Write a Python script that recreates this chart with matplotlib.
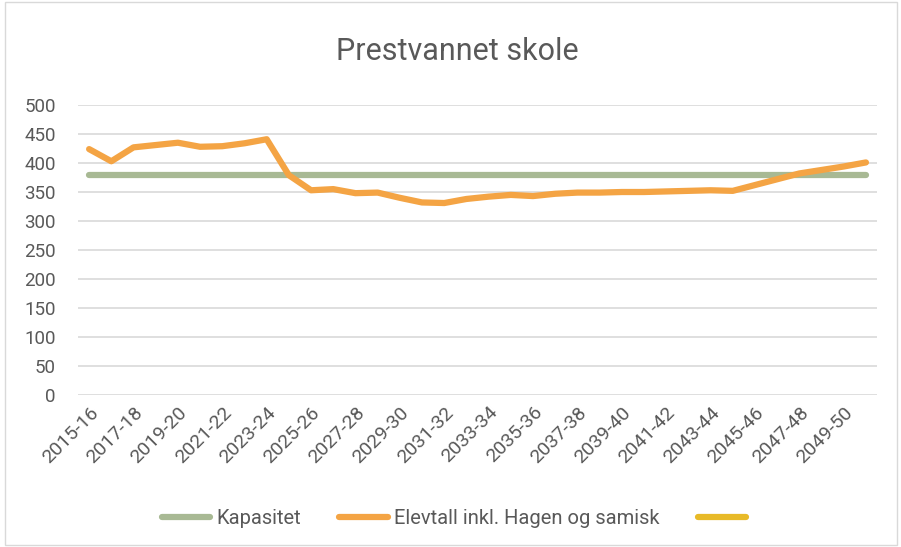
import matplotlib.pyplot as plt
from matplotlib.patches import Rectangle
import numpy as np

# data
aar = ['%d-%02d' % (y, (y + 1) % 100) for y in range(2015, 2051)]
kapasitet = [380] * len(aar)
elevtall = [424, 403, 427, 431, 435, 428, 429, 434, 441, 379,
            353, 355, 348, 349, 340, 332, 331, 338, 342, 345,
            343, 347, 349, 349, 350, 350, 351, 352, 353, 352,
            362, 372, 382, 388, 394, 401]
tom = [np.nan] * len(aar)

plt.rcParams['font.family'] = ['Roboto', 'DejaVu Sans']
grey = '#595959'

fig = plt.figure(figsize=(9.01, 5.47), dpi=100)
ax = fig.add_axes([0.0866, 0.2779, 0.8868, 0.5301])

x = np.arange(len(aar))
ax.plot(x, kapasitet, color='#A8B994', linewidth=4.5, solid_capstyle='round', label='Kapasitet')
ax.plot(x, elevtall, color='#F4A444', linewidth=4.5, solid_capstyle='round',
        solid_joinstyle='round', label='Elevtall inkl. Hagen og samisk')
ax.plot(x, tom, color='#E8BA28', linewidth=4.5, solid_capstyle='round', label=' ')

ax.set_xlim(-0.5, len(aar) - 0.5)
ax.set_ylim(0, 500)
ax.set_yticks(range(0, 501, 50))
ax.set_xticks(x[::2])
ax.set_xticklabels(aar[::2], rotation=45, ha='right', rotation_mode='anchor')
ax.tick_params(length=0, colors=grey)
ax.tick_params(axis='x', pad=6, labelsize=14)
ax.tick_params(axis='y', pad=16, labelsize=13.5)
ax.grid(axis='y', color='#D9D9D9', linewidth=1.2)
ax.set_axisbelow(True)
for s in ax.spines.values():
    s.set_visible(False)

fig.text(0.508, 0.905, 'Prestvannet skole', ha='center', va='center', fontsize=22, color=grey)

leg = fig.legend(loc='center', bbox_to_anchor=(0.51, 0.052), ncol=3, frameon=False,
                 fontsize=14.5, handlelength=2.4, columnspacing=1.9, handletextpad=0.3)
for t in leg.get_texts():
    t.set_color(grey)

fig.patches.append(Rectangle((0.006, 0.004), 0.99, 0.992, transform=fig.transFigure,
                             fill=False, edgecolor='#D9D9D9', linewidth=1))

fig.savefig('out.png', dpi=100)
